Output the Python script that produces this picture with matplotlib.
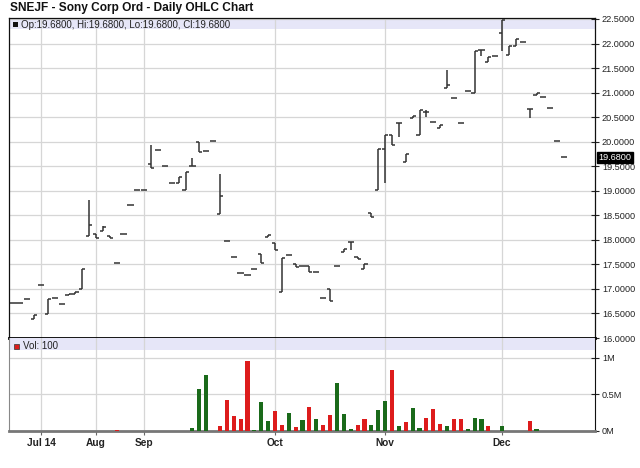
import matplotlib
matplotlib.use('Agg')
import matplotlib.pyplot as plt
import numpy as np
from matplotlib.patches import Rectangle

plt.rcParams['font.family'] = ['Liberation Sans', 'DejaVu Sans']

TITLE = 'SNEJF - Sony Corp Ord - Daily OHLC Chart'
LEGEND_TEXT = 'Op:19.6800, Hi:19.6800, Lo:19.6800, Cl:19.6800'
VOL_TEXT = 'Vol: 100'
LAST_PRICE = 19.68

# one entry per traded session
opens = [16.71, 16.71, 16.80, 16.38, 17.07, 16.48, 16.82, 16.70, 16.87, 16.90,
         17.00, 18.08, 18.12, 18.18, 18.08, 17.52, 18.11, 18.72, 19.02, 19.02,
         19.55, 19.84, 19.50, 19.16, 19.16, 19.02, 19.50, 20.00, 19.80, 20.01,
         18.52, 17.97, 17.65, 17.33, 17.28, 17.41, 17.72, 18.05, 17.93, 16.94,
         17.70, 17.50, 17.47, 17.47, 17.35, 16.82, 16.99, 17.47, 17.75, 17.95,
         17.65, 17.40, 18.55, 19.02, 19.85, 20.14, 20.38, 19.58, 20.48, 20.14,
         20.60, 20.40, 20.28, 21.09, 20.90, 20.38, 21.04, 20.99, 21.86, 21.62,
         21.75, 22.21, 21.77, 21.95, 22.03, 20.66, 20.95, 20.91, 20.68, 20.01,
         19.68]
highs = [16.71, 16.71, 16.80, 16.46, 17.07, 16.80, 16.82, 16.70, 16.90, 16.93,
         17.41, 18.82, 18.12, 18.28, 18.08, 17.52, 18.11, 18.72, 19.02, 19.02,
         19.94, 19.84, 19.50, 19.16, 19.28, 19.38, 19.67, 20.00, 19.80, 20.01,
         19.35, 17.97, 17.65, 17.33, 17.28, 17.41, 17.72, 18.09, 17.93, 17.64,
         17.70, 17.50, 17.47, 17.47, 17.35, 16.82, 16.99, 17.47, 17.82, 17.95,
         17.65, 17.50, 18.55, 19.85, 20.14, 20.14, 20.38, 19.74, 20.53, 20.65,
         20.64, 20.40, 20.33, 21.47, 20.90, 20.38, 21.04, 21.84, 21.86, 21.72,
         21.75, 22.48, 21.95, 22.09, 22.03, 20.66, 21.00, 20.91, 20.68, 20.01,
         19.68]
lows = [16.71, 16.71, 16.80, 16.38, 17.07, 16.48, 16.82, 16.70, 16.87, 16.90,
        17.00, 18.08, 18.04, 18.18, 18.04, 17.52, 18.11, 18.72, 19.02, 19.02,
        19.47, 19.84, 19.50, 19.16, 19.16, 19.02, 19.50, 19.78, 19.80, 20.01,
        18.52, 17.97, 17.65, 17.33, 17.28, 17.41, 17.53, 18.05, 17.79, 16.94,
        17.70, 17.45, 17.47, 17.34, 17.35, 16.82, 16.75, 17.47, 17.75, 17.79,
        17.60, 17.40, 18.47, 19.02, 19.16, 19.94, 20.10, 19.58, 20.48, 20.14,
        20.51, 20.40, 20.28, 21.09, 20.90, 20.38, 21.04, 20.99, 21.75, 21.62,
        21.75, 21.84, 21.77, 21.94, 22.03, 20.48, 20.95, 20.91, 20.68, 20.01,
        19.68]
closes = [16.71, 16.71, 16.80, 16.46, 17.07, 16.80, 16.82, 16.70, 16.90, 16.93,
          17.41, 18.31, 18.04, 18.26, 18.04, 17.52, 18.11, 18.72, 19.02, 19.02,
          19.47, 19.84, 19.50, 19.16, 19.28, 19.38, 19.50, 19.78, 19.80, 20.01,
          18.89, 17.97, 17.65, 17.33, 17.28, 17.41, 17.53, 18.09, 17.79, 17.64,
          17.70, 17.45, 17.47, 17.34, 17.35, 16.82, 16.75, 17.47, 17.82, 17.95,
          17.60, 17.50, 18.47, 19.85, 20.14, 19.94, 20.38, 19.74, 20.53, 20.65,
          20.60, 20.40, 20.33, 21.15, 20.90, 20.38, 21.04, 21.84, 21.86, 21.72,
          21.75, 22.48, 21.95, 22.09, 22.03, 20.66, 21.00, 20.91, 20.68, 20.01,
          19.68]
# volume in millions of shares
volumes = [0, 0, 0, 0, 0, 0, 0, 0, 0, 0,
           0, 0, 0, 0, 0, 0.02, 0, 0, 0, 0,
           0, 0, 0, 0, 0, 0, 0.045, 0.57, 0.76, 0,
           0.07, 0.42, 0.20, 0.16, 0.95, 0.02, 0.39, 0.14, 0.27, 0.08,
           0.25, 0.06, 0.15, 0.33, 0.16, 0.08, 0.22, 0.66, 0.23, 0.03,
           0.08, 0.16, 0.08, 0.29, 0.41, 0.83, 0.07, 0.12, 0.32, 0.045,
           0.18, 0.30, 0.10, 0.07, 0.16, 0.16, 0.03, 0.18, 0.17, 0.07,
           0, 0.07, 0, 0, 0, 0.14, 0.03, 0, 0, 0,
           0]

month_labels = ['Jul 14', 'Aug', 'Sep', 'Oct', 'Nov', 'Dec']
month_index = [4, 12, 19, 38, 54, 71]

price_ticks = np.arange(16.0, 22.51, 0.5)
vol_ticks = [0, 0.5, 1.0]
vol_tick_labels = ['0M', '0.5M', '1M']

GRID = '#d6d6d6'
BAND = '#e6e6f8'
RED = '#dd1c1c'
GREEN = '#1a6a1a'
BAR = '#333333'
W, H = 640, 468

x = np.arange(len(closes))
prev = np.r_[closes[0], closes[:-1]]
vol_colors = [RED if c < p else GREEN for c, p in zip(closes, prev)]

fig = plt.figure(figsize=(6.4, 4.68), dpi=100)
ax = fig.add_axes([9 / W, 1 - 338 / H, 586 / W, 320 / H])
axv = fig.add_axes([9 / W, 1 - 431 / H, 586 / W, 93 / H])

# price panel
ax.set_xlim(-0.65, 84.5)
ax.set_ylim(16.0, 22.52)
ax.set_yticks(price_ticks)
ax.set_yticklabels(['%.4f' % v for v in price_ticks])
ax.yaxis.tick_right()
ax.tick_params(axis='y', direction='inout', length=6, width=0.8, labelsize=6.6, pad=2, colors='#222')
ax.set_xticks(month_index)
ax.tick_params(axis='x', length=0, labelbottom=False)
ax.grid(True, color=GRID, linewidth=0.9)
ax.set_axisbelow(True)
ax.add_patch(Rectangle((0, 0.966), 1, 0.034, transform=ax.transAxes, facecolor=BAND,
                       edgecolor='none', zorder=0.5))

ax.vlines(x, lows, highs, color=BAR, linewidth=1.1, zorder=3)
ax.hlines(opens, x - 0.45, x, color=BAR, linewidth=1.1, zorder=3)
ax.hlines(closes, x, x + 0.45, color=BAR, linewidth=1.1, zorder=3)

for side in ['top', 'left', 'right']:
    ax.spines[side].set_color('#111')
    ax.spines[side].set_linewidth(0.9)
ax.spines['bottom'].set_color('#000')
ax.spines['bottom'].set_linewidth(2)

ax.text(1.006, (LAST_PRICE - 16.0) / 6.52, '%.4f' % LAST_PRICE, transform=ax.transAxes,
        ha='left', va='center', fontsize=6.6, color='white',
        bbox=dict(boxstyle='square,pad=0.15', facecolor='black', edgecolor='black'))

# volume panel
axv.set_xlim(-0.65, 84.5)
axv.set_ylim(0, 1.27)
axv.bar(x, volumes, width=0.6, color=vol_colors, zorder=3)
axv.set_yticks(vol_ticks)
axv.set_yticklabels(vol_tick_labels)
axv.yaxis.tick_right()
axv.tick_params(axis='y', direction='inout', length=6, width=0.8, labelsize=6.6, pad=2, colors='#222')
axv.set_xticks(month_index)
axv.set_xticklabels(month_labels, fontweight='bold', fontsize=7.3, color='#222')
axv.tick_params(axis='x', direction='out', length=3, width=0.8, color='#666', pad=2)
axv.grid(True, color=GRID, linewidth=0.9)
axv.set_axisbelow(True)
axv.add_patch(Rectangle((0, 0.87), 1, 0.13, transform=axv.transAxes, facecolor=BAND,
                        edgecolor='none', zorder=0.5))
axv.spines['top'].set_visible(False)
axv.spines['left'].set_color('#888')
axv.spines['bottom'].set_color('#777')
axv.spines['bottom'].set_linewidth(2)
axv.spines['right'].set_color('#111')

# title and legends
fig.text(10 / W, 1 - 8 / H, TITLE, fontsize=8.6, fontweight='bold', va='center', color='#111')
fig.patches.append(Rectangle((13 / W, 1 - 27 / H), 5 / W, 5 / H, transform=fig.transFigure,
                             facecolor='#111', edgecolor='none', figure=fig))
fig.text(21 / W, 1 - 25 / H, LEGEND_TEXT, fontsize=7.0, va='center', color='#222')
fig.patches.append(Rectangle((14 / W, 1 - 349 / H), 5 / W, 5 / H, transform=fig.transFigure,
                             facecolor=RED, edgecolor='#333', linewidth=0.5, figure=fig))
fig.text(23 / W, 1 - 346 / H, VOL_TEXT, fontsize=7.0, va='center', color='#222')

fig.savefig('out.png', dpi=100)
